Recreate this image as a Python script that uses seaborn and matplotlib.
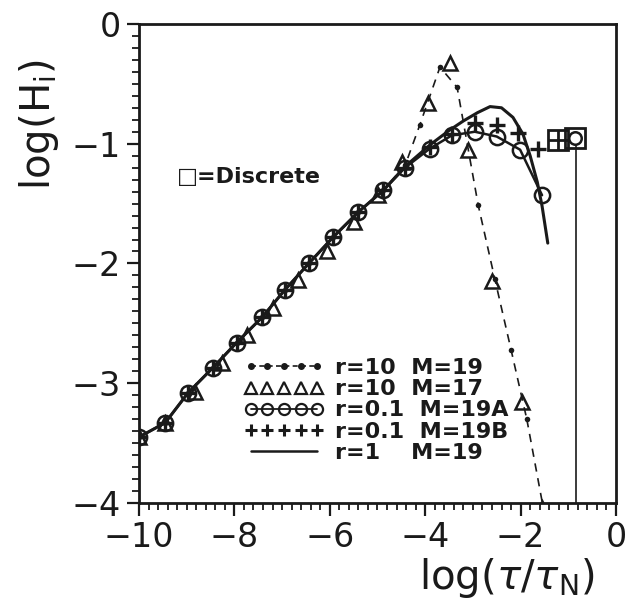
import matplotlib
matplotlib.use('Agg')
import matplotlib.pyplot as plt
from matplotlib.lines import Line2D
from matplotlib.ticker import MultipleLocator
import seaborn as sns

# values (log tau/tauN, log H_i)
x_a = [-10, -9.45, -8.97, -8.45, -7.95, -7.42, -6.94, -6.44, -5.93, -5.4,
       -4.88, -4.42, -3.9, -3.44, -2.96, -2.5, -2.01, -1.55]
y_a = [-3.45, -3.33, -3.08, -2.87, -2.66, -2.45, -2.22, -2.0, -1.78, -1.57,
       -1.39, -1.20, -1.04, -0.93, -0.90, -0.94, -1.05, -1.43]

x_b = [-10, -9.45, -8.97, -8.45, -7.95, -7.42, -6.94, -6.44, -5.93, -5.4,
       -4.88, -4.42, -3.9, -3.44, -2.96, -2.5, -2.05, -1.63]
y_b = [-3.45, -3.33, -3.08, -2.87, -2.66, -2.45, -2.22, -2.0, -1.78, -1.57,
       -1.39, -1.20, -1.03, -0.92, -0.83, -0.84, -0.91, -1.04]

x_r1 = [-10, -9.45, -8.97, -8.45, -7.95, -7.42, -6.94, -6.44, -5.93, -5.4,
        -4.88, -4.42, -3.9, -3.5, -3.2, -2.9, -2.64, -2.4, -2.16, -1.95,
        -1.8, -1.65, -1.55, -1.43]
y_r1 = [-3.45, -3.33, -3.08, -2.87, -2.66, -2.45, -2.22, -2.0, -1.78, -1.57,
        -1.39, -1.19, -1.01, -0.89, -0.81, -0.74, -0.69, -0.70, -0.78, -0.92,
        -1.1, -1.32, -1.52, -1.83]

x_r10 = [-10, -9.45, -8.97, -8.45, -7.95, -7.42, -6.94, -6.44, -5.93, -5.4,
         -4.88, -4.42, -4.11, -3.69, -3.33, -2.89, -2.54, -2.2, -1.87]
y_r10 = [-3.45, -3.33, -3.08, -2.87, -2.66, -2.45, -2.22, -2.0, -1.78, -1.57,
         -1.39, -1.18, -0.84, -0.36, -0.53, -1.51, -2.13, -2.72, -3.30]
x_r10_end = [-1.87, -1.52]
y_r10_end = [-3.30, -4.05]

x_m17 = [-10, -9.45, -8.83, -8.26, -7.74, -7.19, -6.67, -6.06, -5.5, -4.98,
         -4.49, -3.94, -3.48, -3.1, -2.6, -1.97, -1.55]
y_m17 = [-3.45, -3.33, -3.07, -2.83, -2.60, -2.37, -2.14, -1.90, -1.65, -1.43,
         -1.15, -0.66, -0.33, -1.05, -2.15, -3.16, -4.04]

x_disc = [-1.22, -0.86]
y_disc = [-0.97, -0.95]

legend_labels = ["r=10  M=19", "r=10  M=17", "r=0.1  M=19A",
                 "r=0.1  M=19B", "r=1    M=19"]

sns.set_theme(style="ticks")
plt.rcParams['font.family'] = ['DejaVu Sans']
plt.rcParams['text.color'] = 'k'
plt.rcParams['axes.labelcolor'] = 'k'
plt.rcParams['xtick.color'] = 'k'
plt.rcParams['ytick.color'] = 'k'

fig = plt.figure(figsize=(6.34, 6.02), dpi=100)
ax = fig.add_axes([0.2192, 0.1645, 0.7524, 0.7957])

# r=1 solid curve
sns.lineplot(x=x_r1, y=y_r1, ax=ax, color="k", linewidth=2.2, sort=False,
             estimator=None)
# r=10 M=19 dashed with dots
sns.lineplot(x=x_r10, y=y_r10, ax=ax, color="k", linewidth=1.2, linestyle=(0, (5, 4)),
             marker="o", markersize=4, markeredgecolor="k", markeredgewidth=0,
             sort=False, estimator=None)
sns.lineplot(x=x_r10_end, y=y_r10_end, ax=ax, color="k", linewidth=1.2,
             linestyle=(0, (5, 4)), sort=False, estimator=None)
# r=0.1 M=19A circles on a solid line
sns.lineplot(x=x_a, y=y_a, ax=ax, color="k", linewidth=1.8, marker="o",
             markersize=11, markerfacecolor="none", markeredgecolor="k",
             markeredgewidth=1.8, sort=False, estimator=None)
# r=0.1 M=19B pluses
sns.lineplot(x=x_b, y=y_b, ax=ax, color="k", linestyle="none", marker="+",
             markersize=11, markeredgecolor="k", markeredgewidth=2.4,
             sort=False, estimator=None)
# r=10 M=17 triangles
sns.lineplot(x=x_m17, y=y_m17, ax=ax, color="k", linestyle="none", marker="^",
             markersize=10, markerfacecolor="none", markeredgecolor="k",
             markeredgewidth=1.8, sort=False, estimator=None)

# discrete results
ax.plot(x_disc, y_disc, linestyle="none", marker="s", markersize=15,
        markerfacecolor="none", markeredgecolor="k", markeredgewidth=2)
ax.plot(x_disc[:1], y_disc[:1], linestyle="none", marker="+", markersize=15,
        markeredgecolor="k", markeredgewidth=2)
ax.plot(x_disc[1:], y_disc[1:], linestyle="none", marker="o", markersize=9,
        markerfacecolor="none", markeredgecolor="k", markeredgewidth=1.8)
ax.plot([x_disc[1] + 0.02, x_disc[1] + 0.02], [y_disc[1] - 0.07, -4], color="k",
        linewidth=1.2)

ax.text(-9.2, -1.28, "\u25a1=Discrete", fontsize=16, fontweight="bold",
        ha="left", va="center")

ax.set_xlim(-10, 0)
ax.set_ylim(-4, 0)
ax.xaxis.set_major_locator(MultipleLocator(2))
ax.xaxis.set_minor_locator(MultipleLocator(0.2))
ax.yaxis.set_major_locator(MultipleLocator(1))
ax.yaxis.set_minor_locator(MultipleLocator(0.1))
ax.tick_params(axis="both", which="major", direction="out", length=9, width=1.6,
               labelsize=24, color="k", labelcolor="k", pad=4)
ax.tick_params(axis="both", which="minor", direction="out", length=5, width=1.3,
               color="k")
ax.tick_params(top=False, right=False, which="both")
for s in ax.spines.values():
    s.set_linewidth(2)
    s.set_color("k")

ax.set_xlabel(r"log($\tau$/$\tau_\mathregular{N}$)", fontsize=29, color="k")
ax.set_ylabel(r"log(H$_\mathregular{i}$)", fontsize=29, color="k")
ax.xaxis.set_label_coords(0.77, -0.157)
ax.yaxis.set_label_coords(-0.21, 0.79)
ax.xaxis.label.set_va("center")
ax.yaxis.label.set_va("center")

handles = [
    Line2D([], [], color="k", linewidth=1.2, linestyle=(0, (3, 2)), marker="o",
           markersize=4),
    Line2D([], [], color="k", linestyle="none", marker="^", markersize=8,
           markerfacecolor="none", markeredgewidth=1.6),
    Line2D([], [], color="k", linewidth=1.3, marker="o", markersize=8,
           markerfacecolor="none", markeredgewidth=1.6),
    Line2D([], [], color="k", linestyle="none", marker="+", markersize=9,
           markeredgewidth=2.2),
    Line2D([], [], color="k", linewidth=1.8),
]
fig.legend(handles, legend_labels, loc="upper left",
           bbox_to_anchor=(0.385, 0.405), frameon=False, numpoints=5,
           handlelength=3.6, handletextpad=0.5, labelspacing=0.05,
           borderpad=0, borderaxespad=0,
           prop={"weight": "bold", "size": 16})

fig.savefig("out.png", dpi=100)
